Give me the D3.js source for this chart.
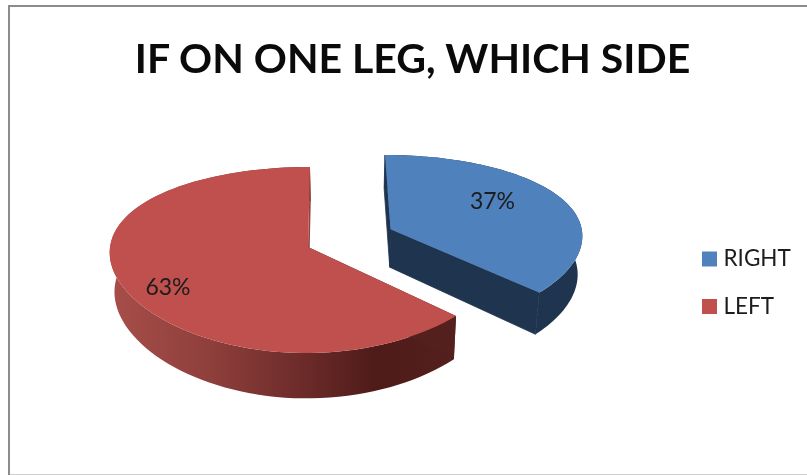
<!DOCTYPE html>
<html><head><meta charset="utf-8">
<script src="https://cdnjs.cloudflare.com/ajax/libs/d3/7.8.5/d3.min.js"></script>
<style>html,body{margin:0;padding:0;background:#fff}svg{display:block;filter:blur(0.45px)}</style>
</head><body>
<script>
const titleText = "IF ON ONE LEG, WHICH SIDE";
const categories = ["RIGHT", "LEFT"];
const values = [37, 63];
const labels = ["37%", "63%"];
const topColors = ["#4f81bd", "#c0504d"];

const W = 807, H = 475;
const svg = d3.select("body").append("svg").attr("width", W).attr("height", H);
const defs = svg.append("defs");
const grad = defs.append("linearGradient").attr("id", "redWall")
  .attr("gradientUnits", "userSpaceOnUse").attr("x1", 108).attr("x2", 452).attr("y1", 0).attr("y2", 0);
[[0, "#a84e4a"], [0.3, "#8e3f3c"], [0.58, "#6a2a28"], [0.78, "#4e1b19"], [1, "#54201e"]]
  .forEach(s => grad.append("stop").attr("offset", s[0]).attr("stop-color", s[1]));
const wallFills = ["#1f344e", "url(#redWall)"];

// page frame
svg.append("rect").attr("x", 8).attr("y", 5).attr("width", 2).attr("height", 470).attr("fill", "#8c8c8c");
svg.append("rect").attr("x", 8).attr("y", 5).attr("width", 799).attr("height", 2).attr("fill", "#8c8c8c");
svg.append("rect").attr("x", 10).attr("y", 474).attr("width", 797).attr("height", 1).attr("fill", "#cfcfcf");

// projection of the tilted disc
const xv = 349, y0 = 247, R = 198, RV = 91.2, k = 0.14, kx = 0.05, depth = 39, f = 0.98;
const shears = [0.05, 0];
const project = (u, v, low, i) => {
  const s = 1 / (1 + k * v), sx = 1 / (1 + kx * v);
  const x = xv + R * u * sx, y = y0 - RV * v * s;
  const sh = shears[i] * (y - 229);
  return low ? [xv + (x - xv) * f + sh, y + depth * s] : [x + sh, y];
};
const offsets = [[0.212, 0.2], [-0.207, 0]];
const radii = [0.975, 1];

const pie = d3.pie().sort(null).value(d => d)(values);
const line = d3.line();
const arcPts = (d, i, low) => {
  const [ou, ov] = offsets[i];
  const n = 90, t = d3.scaleLinear().domain([0, n]).range([d.startAngle, d.endAngle]);
  return d3.range(n + 1).map(j => project(ou + radii[i] * Math.sin(t(j)), ov + radii[i] * Math.cos(t(j)), low, i));
};
const apex = (i, low) => project(offsets[i][0], offsets[i][1], low, i);

[1, 0].forEach(i => {
  const d = pie[i];
  const g = svg.append("g");
  const top = arcPts(d, i, false), low = arcPts(d, i, true);
  const fill = wallFills[i];
  // arc wall
  g.append("path").attr("d", line(top.concat(low.slice().reverse())) + "Z").attr("fill", fill);
  // radial walls
  [0, top.length - 1].forEach(e => {
    g.append("path").attr("d", line([apex(i, false), top[e], low[e], apex(i, true)]) + "Z")
      .attr("fill", i === 0 ? "#1f344e" : (e === 0 ? "#54201e" : "#96413e"))
      .attr("stroke", i === 0 ? "#1f344e" : "none").attr("stroke-width", 0.8);
  });
  // top face
  g.append("path").attr("d", line([apex(i, false)].concat(top)) + "Z").attr("fill", topColors[i]);
});

const font = "Lato, 'Open Sans', sans-serif";
svg.append("text").attr("x", 412.5).attr("y", 73).attr("text-anchor", "middle")
  .attr("font-family", font).attr("font-weight", 700).attr("font-size", 41).attr("fill", "#0a0a0a").text(titleText);

const labelPos = [[492.5, 209], [168, 295]];
svg.selectAll(".lab").data(labels).join("text").attr("class", "lab")
  .attr("x", (d, i) => labelPos[i][0]).attr("y", (d, i) => labelPos[i][1]).attr("text-anchor", "middle")
  .attr("font-family", font).attr("font-size", 23).attr("fill", "#1c1c1c").text(d => d);

const legY = d3.scalePoint().domain(categories).range([259, 306.5]);
const leg = svg.selectAll(".leg").data(categories).join("g").attr("class", "leg")
  .attr("transform", d => `translate(0,${legY(d)})`);
leg.append("rect").attr("x", 702).attr("y", -7.5).attr("width", 15).attr("height", 15)
  .attr("fill", (d, i) => topColors[i]);
leg.append("text").attr("x", 723.5).attr("y", 7).attr("font-family", font).attr("font-size", 22.5)
  .attr("fill", "#1c1c1c").text(d => d);
</script>
</body></html>
